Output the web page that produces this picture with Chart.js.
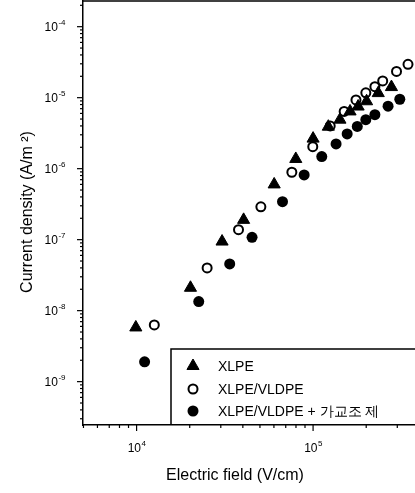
<!DOCTYPE html>
<html>
<head>
<meta charset="utf-8">
<script src="https://cdn.jsdelivr.net/npm/chart.js@4/dist/chart.umd.min.js"></script>
<style>
html, body { margin: 0; padding: 0; background: #fff; overflow: hidden; }
#wrap { width: 415px; height: 493px; }
</style>
</head>
<body>
<div id="wrap"><canvas id="chart_jv"></canvas></div>
<script>
// electric field (V/cm) and current density (A/m2)
var xlpe_field = [9.9e3, 2.02e4, 3.05e4, 4.04e4, 6.02e4, 7.98e4, 1.0e5, 1.22e5, 1.42e5, 1.62e5, 1.80e5, 2.01e5, 2.34e5, 2.78e5];
var xlpe_current = [5.8e-9, 2.1e-8, 9.4e-8, 1.9e-7, 6.0e-7, 1.37e-6, 2.65e-6, 3.9e-6, 4.9e-6, 6.4e-6, 7.5e-6, 8.9e-6, 1.16e-5, 1.41e-5];

var blend_field = [1.26e4, 2.51e4, 3.78e4, 5.06e4, 7.58e4, 9.96e4, 1.25e5, 1.50e5, 1.75e5, 1.99e5, 2.24e5, 2.48e5, 2.97e5, 3.45e5];
var blend_current = [6.3e-9, 4.0e-8, 1.38e-7, 2.9e-7, 8.9e-7, 2.04e-6, 4.0e-6, 6.4e-6, 9.3e-6, 1.17e-5, 1.43e-5, 1.72e-5, 2.34e-5, 2.95e-5];

var agent_field = [1.11e4, 2.25e4, 3.37e4, 4.51e4, 6.71e4, 8.9e4, 1.12e5, 1.35e5, 1.56e5, 1.78e5, 1.99e5, 2.24e5, 2.66e5, 3.10e5];
var agent_current = [1.9e-9, 1.34e-8, 4.55e-8, 1.08e-7, 3.43e-7, 8.15e-7, 1.48e-6, 2.23e-6, 3.08e-6, 3.94e-6, 4.9e-6, 5.75e-6, 7.6e-6, 9.5e-6];

var series_names = ['XLPE', 'XLPE/VLDPE', 'XLPE/VLDPE + 가교조 제'];

function toPoints(xs, ys) {
	var out = [];
	for (var i = 0; i < xs.length; i++) out.push({x: xs[i], y: ys[i]});
	return out;
}

var FONT = '"Liberation Sans", Arial, sans-serif';

// tick marks + power-of-ten labels, drawn through the scales
var logTicks = {
	id: 'logTicks',
	afterDraw: function(chart) {
		var ctx = chart.ctx;
		ctx.save();
		ctx.strokeStyle = '#000';
		ctx.fillStyle = '#000';
		ctx.lineWidth = 1.2;
		['x', 'y'].forEach(function(id) {
			var s = chart.scales[id];
			var e0 = Math.floor(Math.log10(s.min)), e1 = Math.ceil(Math.log10(s.max));
			for (var e = e0; e <= e1; e++) {
				for (var m = 1; m <= 9; m++) {
					var v = m * Math.pow(10, e);
					if (v < s.min || v > s.max) continue;
					var p = s.getPixelForValue(v);
					var len = m === 1 ? 6 : 3;
					ctx.beginPath();
					if (id === 'x') {
						ctx.moveTo(p, s.top);
						ctx.lineTo(p, s.top + len);
					} else {
						ctx.moveTo(s.right, p);
						ctx.lineTo(s.right - len, p);
					}
					ctx.stroke();
					if (m === 1) {
						var ex = String(e);
						ctx.font = '12px ' + FONT;
						var w10 = ctx.measureText('10').width;
						ctx.font = '8px ' + FONT;
						var wEx = ctx.measureText(ex).width;
						ctx.textBaseline = 'middle';
						ctx.textAlign = 'left';
						var lx, ly;
						if (id === 'x') {
							lx = p - (w10 + wEx) / 2;
							ly = s.top + 24;
						} else {
							lx = s.right - 18 - w10 - wEx;
							ly = p + 1;
						}
						ctx.font = '12px ' + FONT;
						ctx.fillText('10', lx, ly);
						ctx.font = '8px ' + FONT;
						ctx.fillText(ex, lx + w10 + 0.5, ly - 5);
					}
				}
			}
		});
		ctx.restore();
	}
};

// frame top, axis titles, legend box
var decor = {
	id: 'decor',
	afterDraw: function(chart) {
		var ctx = chart.ctx, a = chart.chartArea;
		ctx.save();
		ctx.strokeStyle = '#000';
		ctx.lineWidth = 1.5;
		ctx.beginPath();
		ctx.moveTo(a.left, a.top);
		ctx.lineTo(a.right, a.top);
		ctx.stroke();

		ctx.fillStyle = '#000';
		ctx.font = '16px ' + FONT;
		ctx.textAlign = 'center';
		ctx.textBaseline = 'middle';
		ctx.fillText('Electric field (V/cm)', 235, 476);
		ctx.save();
		ctx.translate(28, 212);
		ctx.rotate(-Math.PI / 2);
		ctx.fillText('Current density (A/m \u00b2)', 0, 0);
		ctx.restore();

		// legend
		var bx = 171, by = 349;
		ctx.lineWidth = 1.5;
		ctx.beginPath();
		ctx.moveTo(bx, a.bottom);
		ctx.lineTo(bx, by);
		ctx.lineTo(a.right, by);
		ctx.stroke();
		var rows = [366, 389, 411];
		ctx.font = '14px ' + FONT;
		ctx.textAlign = 'left';
		chart.data.datasets.forEach(function(ds, i) {
			var cx = 193, cy = rows[i];
			ctx.beginPath();
			if (ds.pointStyle === 'triangle') {
				var r = ds.pointRadius;
				ctx.moveTo(cx, cy - r);
				ctx.lineTo(cx + r * 0.866, cy + r / 2);
				ctx.lineTo(cx - r * 0.866, cy + r / 2);
				ctx.closePath();
			} else {
				ctx.arc(cx, cy, ds.pointRadius, 0, Math.PI * 2);
			}
			ctx.fillStyle = ds.pointBackgroundColor;
			ctx.fill();
			ctx.lineWidth = ds.pointBorderWidth;
			ctx.strokeStyle = '#000';
			if (ds.pointBorderWidth > 0) ctx.stroke();
			ctx.fillStyle = '#000';
			ctx.fillText(ds.label, 218, cy + 1);
		});
		ctx.restore();
	}
};

var chart_jv = new Chart(
	document.getElementById('chart_jv'),
	{
		type: 'scatter',
		data: {
			datasets: [
				{
					label: series_names[0],
					data: toPoints(xlpe_field, xlpe_current),
					pointStyle: 'triangle',
					pointRadius: 7,
					pointBackgroundColor: '#000',
					pointBorderColor: '#000',
					pointBorderWidth: 1,
				},
				{
					label: series_names[1],
					data: toPoints(blend_field, blend_current),
					pointStyle: 'circle',
					pointRadius: 4.5,
					pointBackgroundColor: '#fff',
					pointBorderColor: '#000',
					pointBorderWidth: 2,
				},
				{
					label: series_names[2],
					data: toPoints(agent_field, agent_current),
					pointStyle: 'circle',
					pointRadius: 5.5,
					pointBackgroundColor: '#000',
					pointBorderColor: '#000',
					pointBorderWidth: 0,
				}
			]
		},
		options: {
			responsive: true,
			maintainAspectRatio: false,
			animation: false,
			layout: { autoPadding: false, padding: { top: 1, left: 0, right: 0, bottom: 0 } },
			plugins: {
				legend: { display: false },
				tooltip: { enabled: false }
			},
			scales: {
				x: {
					type: 'logarithmic',
					min: 4970,
					max: 3.78e5,
					grid: { display: false },
					border: { display: true, color: '#000', width: 1.5 },
					ticks: { display: false },
					afterFit: function(s) { s.height = 68; }
				},
				y: {
					type: 'logarithmic',
					min: 2.45e-10,
					max: 2.3e-4,
					grid: { display: false },
					border: { display: true, color: '#000', width: 1.5 },
					ticks: { display: false },
					afterFit: function(s) { s.width = 83; }
				}
			}
		},
		plugins: [logTicks, decor]
	}
);
</script>
</body>
</html>
